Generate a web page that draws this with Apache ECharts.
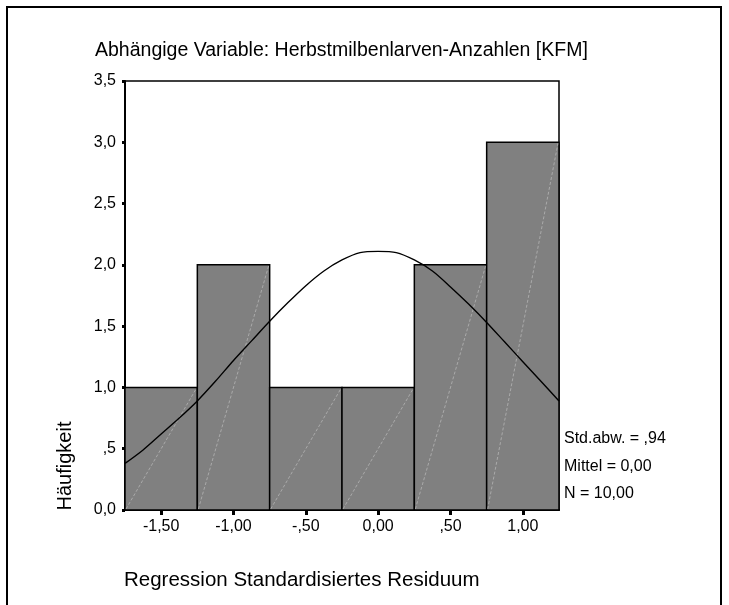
<!DOCTYPE html>
<html>
<head>
<meta charset="utf-8">
<script src="https://cdn.jsdelivr.net/npm/echarts@6/dist/echarts.min.js"></script>
<style>
  html, body { margin: 0; padding: 0; background: #fff; }
  #chart { width: 729px; height: 605px; }
</style>
</head>
<body>
<div id="chart"></div>
<script>
// Histogram bins of the standardized regression residuals
const binStart = [-1.75, -1.25, -0.75, -0.25, 0.25, 0.75];
const binEnd   = [-1.25, -0.75, -0.25, 0.25, 0.75, 1.25];
const counts   = [1, 2, 1, 1, 2, 3];

// Fitted normal curve (Mittel 0,00, Std.abw. ,94)
const curveX = [-1.75, -1.625, -1.5, -1.375, -1.25, -1.125, -1.0, -0.875, -0.75, -0.625, -0.5, -0.375, -0.25, -0.125,
                0.0, 0.125, 0.25, 0.375, 0.5, 0.625, 0.75, 0.875, 1.0, 1.125, 1.25];
const curveY = [0.38, 0.49, 0.62, 0.75, 0.89, 1.05, 1.22, 1.38, 1.54, 1.69, 1.83, 1.95, 2.04, 2.10,
                2.11, 2.10, 2.04, 1.95, 1.82, 1.68, 1.53, 1.37, 1.21, 1.05, 0.89];

// Axis ticks and their German-style labels
const xTickValues = [-1.5, -1.0, -0.5, 0.0, 0.5, 1.0];
const xTickLabels = ['-1,50', '-1,00', '-,50', '0,00', ',50', '1,00'];
const yTickValues = [0, 0.5, 1.0, 1.5, 2.0, 2.5, 3.0, 3.5];
const yTickLabels = ['0,0', ',5', '1,0', '1,5', '2,0', '2,5', '3,0', '3,5'];

const titleText = 'Abhängige Variable: Herbstmilbenlarven-Anzahlen [KFM]';
const xName = 'Regression Standardisiertes Residuum';
const yName = 'Häufigkeit';
const statLines = ['Std.abw. = ,94', 'Mittel = 0,00', 'N = 10,00'];

const FONT = '"Liberation Sans", Arial, sans-serif';

function labelFor(values, labels) {
  return function (v) {
    for (let i = 0; i < values.length; i++) {
      if (Math.abs(values[i] - v) < 1e-9) return labels[i];
    }
    return '';
  };
}

const histData = binStart.map((s, i) => [s, binEnd[i], counts[i]]);
const curveData = curveX.map((x, i) => [x, curveY[i]]);

const chart = echarts.init(document.getElementById('chart'), null, { renderer: 'canvas' });

chart.setOption({
  animation: false,
  backgroundColor: '#fff',
  textStyle: { fontFamily: FONT },
  grid: {
    left: 125, right: 170, top: 81, bottom: 95,
    show: true, borderColor: '#000', borderWidth: 1.5, backgroundColor: 'transparent'
  },
  xAxis: {
    type: 'value',
    min: -1.75, max: 1.25,
    splitLine: { show: false },
    axisLine: { show: true, onZero: false, lineStyle: { color: '#000', width: 2 } },
    axisTick: { show: true, customValues: xTickValues, length: 5, lineStyle: { color: '#000', width: 3 } },
    axisLabel: {
      customValues: xTickValues, formatter: labelFor(xTickValues, xTickLabels),
      color: '#000', fontSize: 16, fontFamily: FONT, margin: 9
    }
  },
  yAxis: {
    type: 'value',
    min: 0, max: 3.5, interval: 0.5,
    splitLine: { show: false },
    axisLine: { show: true, onZero: false, lineStyle: { color: '#000', width: 2 } },
    axisTick: { show: true, length: 3, lineStyle: { color: '#000', width: 3 } },
    axisLabel: {
      formatter: labelFor(yTickValues, yTickLabels),
      color: '#000', fontSize: 16, fontFamily: FONT, margin: 9
    }
  },
  series: [
    {
      type: 'custom',
      data: histData,
      z: 2,
      renderItem: function (params, api) {
        const p0 = api.coord([api.value(0), 0]);
        const p1 = api.coord([api.value(1), api.value(2)]);
        return {
          type: 'group',
          children: [
            {
              type: 'rect',
              shape: { x: p0[0], y: p1[1], width: p1[0] - p0[0], height: p0[1] - p1[1] },
              style: { fill: '#808080', stroke: '#000', lineWidth: 1.5 }
            },
            {
              type: 'line',
              shape: { x1: p0[0] + 1, y1: p0[1] - 1, x2: p1[0] - 1, y2: p1[1] + 1 },
              style: { stroke: '#bcbcbc', lineWidth: 0.7, lineDash: [3, 2] }
            }
          ]
        };
      }
    },
    {
      type: 'line',
      data: curveData,
      smooth: 0.3,
      showSymbol: false,
      symbol: 'none',
      z: 5,
      lineStyle: { color: '#000', width: 1.4 }
    }
  ],
  graphic: [
    {
      type: 'rect',
      shape: { x: 7, y: 7, width: 714, height: 620 },
      style: { fill: 'none', stroke: '#000', lineWidth: 2 },
      silent: true
    },
    {
      type: 'text', left: 95, top: 41,
      style: { text: titleText, font: '19.5px ' + FONT, fill: '#000' }
    },
    {
      type: 'text', left: 124, top: 570,
      style: { text: xName, font: '20.5px ' + FONT, fill: '#000' }
    },
    {
      type: 'text', x: 65, y: 466, rotation: Math.PI / 2,
      style: { text: yName, font: '20px ' + FONT, fill: '#000', textAlign: 'center', textVerticalAlign: 'middle' }
    },
    {
      type: 'text', left: 564, top: 431,
      style: { text: statLines[0], font: '16px ' + FONT, fill: '#000' }
    },
    {
      type: 'text', left: 564, top: 459,
      style: { text: statLines[1], font: '16px ' + FONT, fill: '#000' }
    },
    {
      type: 'text', left: 564, top: 486,
      style: { text: statLines[2], font: '16px ' + FONT, fill: '#000' }
    }
  ]
});
</script>
</body>
</html>
